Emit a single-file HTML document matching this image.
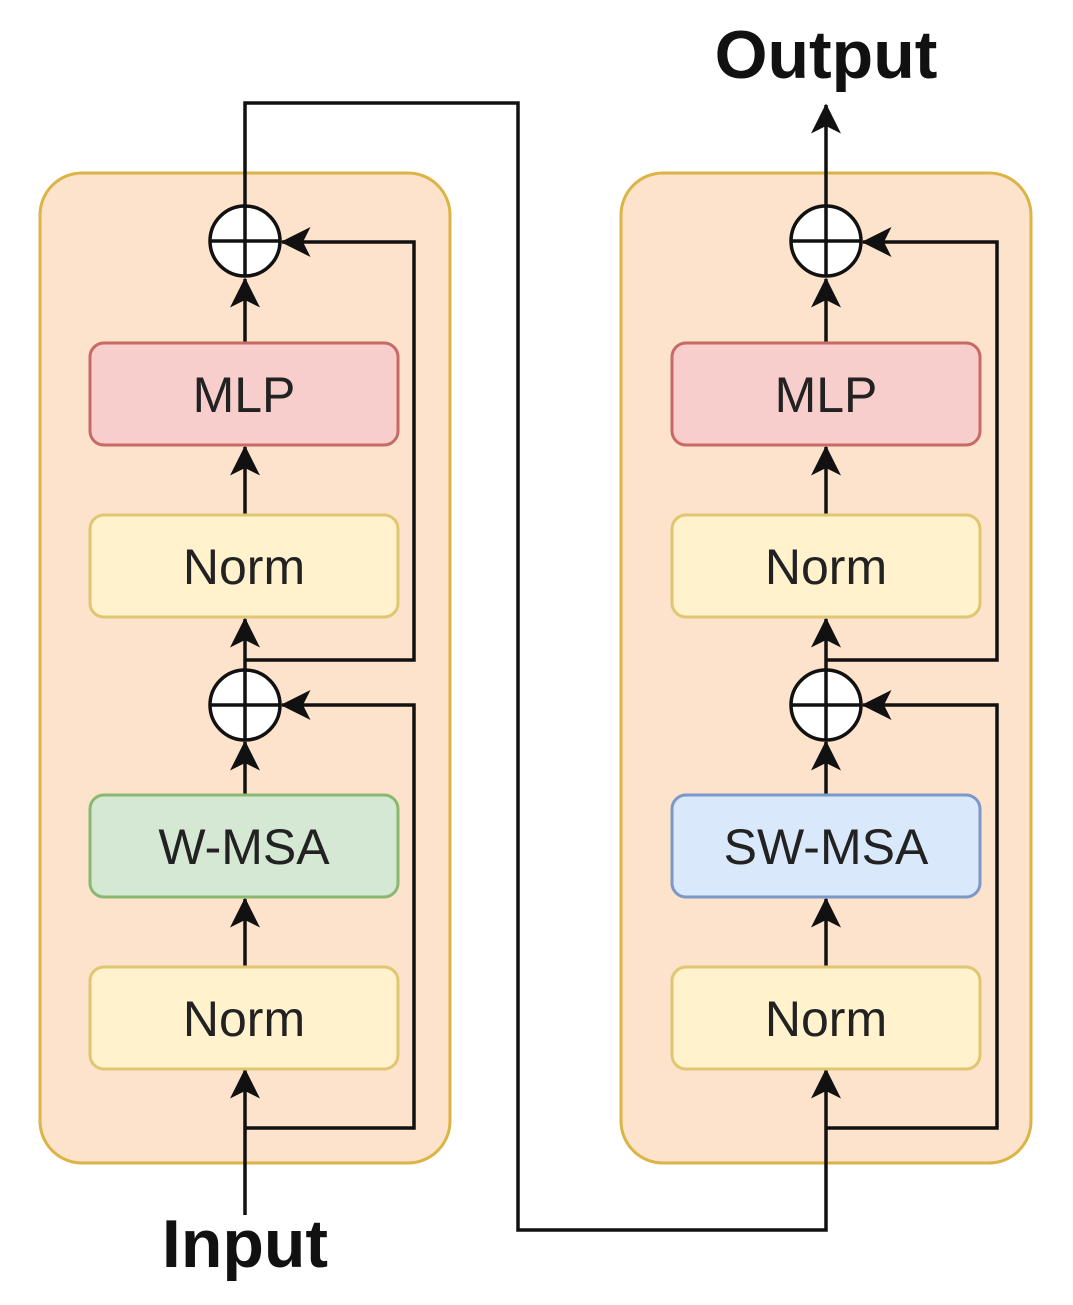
<!DOCTYPE html>
<html><head><meta charset="utf-8"><style>
html,body{margin:0;padding:0;background:#fff;}
svg{display:block;}
text{font-family:"Liberation Sans",sans-serif;}
</style></head><body>
<svg width="1073" height="1305" viewBox="0 0 1073 1305" xmlns="http://www.w3.org/2000/svg">
<defs>
<marker id="a" viewBox="0 0 20 20" refX="19" refY="10" markerWidth="30" markerHeight="30" markerUnits="userSpaceOnUse" orient="auto">
<path d="M0,0 L20,10 L0,20 L5,10 Z" fill="#111"/>
</marker>
</defs>
<rect x="40" y="173" width="410" height="990" rx="42" fill="#fde3cb" stroke="#dcb445" stroke-width="3"/>
<rect x="621" y="173" width="410" height="990" rx="42" fill="#fde3cb" stroke="#dcb445" stroke-width="3"/>
<g stroke="#111" stroke-width="3.5" fill="none">
<path d="M245,1215 V1070" marker-end="url(#a)"/>
<path d="M245,967 V899" marker-end="url(#a)"/>
<path d="M245,795 V742" marker-end="url(#a)"/>
<path d="M245,670 V619" marker-end="url(#a)"/>
<path d="M245,515 V447" marker-end="url(#a)"/>
<path d="M245,343 V279" marker-end="url(#a)"/>
<path d="M245,1128 H414 V705 H282" marker-end="url(#a)"/>
<path d="M245,660 H414 V242 H282" marker-end="url(#a)"/>
<path d="M245,207 V103 H518 V1230 H826 V1070" marker-end="url(#a)"/>
<path d="M826,967 V899" marker-end="url(#a)"/>
<path d="M826,795 V742" marker-end="url(#a)"/>
<path d="M826,670 V619" marker-end="url(#a)"/>
<path d="M826,515 V447" marker-end="url(#a)"/>
<path d="M826,343 V279" marker-end="url(#a)"/>
<path d="M826,1128 H997 V705 H863" marker-end="url(#a)"/>
<path d="M826,660 H997 V242 H863" marker-end="url(#a)"/>
<path d="M826,207 V105" marker-end="url(#a)"/>
</g>
<g stroke="#111" stroke-width="3.5" fill="#fff">
<circle cx="245" cy="241" r="35"/><circle cx="245" cy="705" r="35"/>
<circle cx="826" cy="241" r="35"/><circle cx="826" cy="705" r="35"/>
</g>
<g stroke="#111" stroke-width="3.5">
<path d="M210,241 H280 M245,206 V276"/><path d="M210,705 H280 M245,670 V740"/>
<path d="M791,241 H861 M826,206 V276"/><path d="M791,705 H861 M826,670 V740"/>
</g>
<g stroke-width="3">
<rect x="90" y="343" width="308" height="102" rx="14" fill="#f8cecc" stroke="#c76a66"/>
<rect x="90" y="515" width="308" height="102" rx="14" fill="#fff2cc" stroke="#e0c670"/>
<rect x="90" y="795" width="308" height="102" rx="14" fill="#d5e8d4" stroke="#8bb870"/>
<rect x="90" y="967" width="308" height="102" rx="14" fill="#fff2cc" stroke="#e0c670"/>
<rect x="672" y="343" width="308" height="102" rx="14" fill="#f8cecc" stroke="#c76a66"/>
<rect x="672" y="515" width="308" height="102" rx="14" fill="#fff2cc" stroke="#e0c670"/>
<rect x="672" y="795" width="308" height="102" rx="14" fill="#dae8fc" stroke="#7b98c8"/>
<rect x="672" y="967" width="308" height="102" rx="14" fill="#fff2cc" stroke="#e0c670"/>
</g>
<g font-size="50" fill="#222" text-anchor="middle">
<text x="244" y="412">MLP</text>
<text x="244" y="584">Norm</text>
<text x="244" y="864">W-MSA</text>
<text x="244" y="1036">Norm</text>
<text x="826" y="412">MLP</text>
<text x="826" y="584">Norm</text>
<text x="826" y="864">SW-MSA</text>
<text x="826" y="1036">Norm</text>
</g>
<g font-size="68" font-weight="bold" fill="#111" text-anchor="middle">
<text x="245" y="1267">Input</text>
<text x="826" y="78">Output</text>
</g>
</svg>
</body></html>
